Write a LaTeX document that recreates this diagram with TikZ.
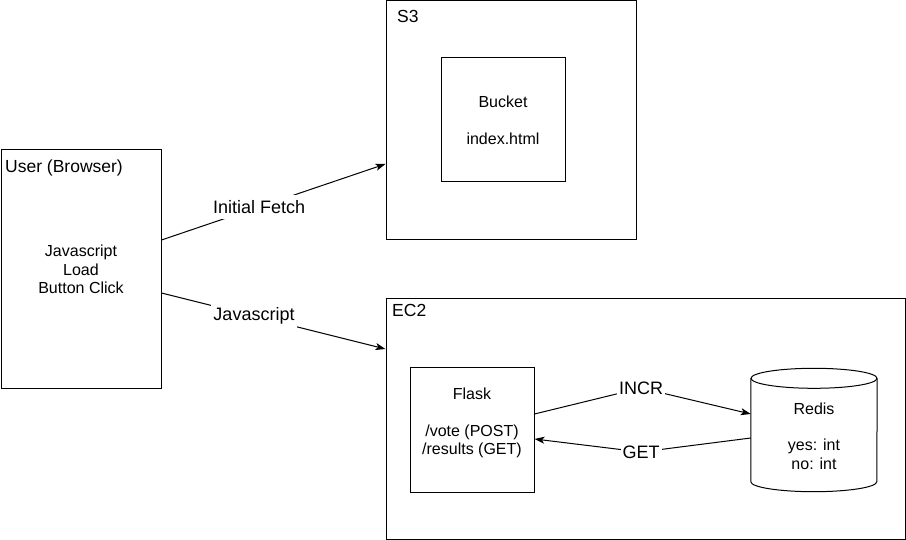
\documentclass[tikz,border=0pt]{standalone}
\usepackage{fontspec}
\setmainfont{Liberation Sans}
\usetikzlibrary{arrows.meta}

\tikzset{
	box/.style={draw, line width=1pt, rectangle, inner sep=0pt, align=center, font=\fontsize{16}{18.3}\selectfont},
	boxtext/.style={inner sep=0pt, align=center, font=\fontsize{16}{18.3}\selectfont},
	title/.style={anchor=base west, inner sep=0pt, font=\fontsize{17.5}{20}\selectfont},
	edgelabel/.style={fill=white, inner xsep=2pt, inner ysep=0pt, minimum height=24, font=\fontsize{18}{20}\selectfont},
	conn/.style={line width=1pt, -{Stealth[length=10pt,width=7pt,inset=2.5pt]}},
}

\begin{document}
\begin{tikzpicture}[x=1pt,y=-1pt]
	% Parameters
	\def\smallbox{124}
	\def\cylrx{63pt}
	\def\cylry{10pt}
	\useasboundingbox (0,0) rectangle (906,540);
	
	%blocks
	\node[box, minimum width=160, minimum height=239] (user) at (81,269.5) {Javascript\\Load\\Button Click};
	\node[box, minimum width=250, minimum height=239] (s3) at (511,120.5) {};
	\node[box, minimum width=\smallbox, minimum height=\smallbox] (bucket) at (503,120) {Bucket\\\mbox{}\\index.html};
	\node[box, minimum width=519, minimum height=240] (ec2) at (645.5,419) {};
	\node[box, minimum width=\smallbox, minimum height=\smallbox] (flask) at (472,430) {};
	\node[inner sep=0pt, minimum width=126, minimum height=123] (redis) at (814,430) {};
	
	%cylinder
	\draw[line width=1pt] ([yshift=-\cylry]redis.north) ellipse[x radius=\cylrx, y radius=\cylry];
	\draw[line width=1pt] ([yshift=-\cylry]redis.north west) -- ([yshift=\cylry]redis.south west)
		arc[start angle=180, end angle=360, x radius=\cylrx, y radius=\cylry] -- ([yshift=-\cylry]redis.north east);
	
	%box texts
	\node[boxtext] (flasktext) at ([yshift=7pt]flask.center) {Flask\\\mbox{}\\/vote (POST)\\/results (GET)};
	\node[boxtext] (redistext) at ([yshift=-6pt]redis.center) {Redis\\\mbox{}\\yes: int\\no: int};
	
	%titles
	\node[title] (usertitle) at (5,173) {User (Browser)};
	\node[title] (s3title) at (397,23) {S3};
	\node[title] (ec2title) at (392,317) {EC2};
	
	%nets
	\draw[conn] ([yshift=29.5pt]user.east) -- node[edgelabel, pos=0.436] (fetch) {Initial Fetch} ([yshift=-43.5pt]s3.west);
	\draw[conn] ([yshift=-23.5pt]user.east) -- node[edgelabel, pos=0.413] (js) {Javascript} ([yshift=70pt]ec2.west);
	
	\coordinate (incrpt) at (641,388);
	\coordinate (getpt) at (641,452);
	\draw[conn] ([yshift=16pt]flask.east) -- (incrpt) node[edgelabel] (incr) {INCR} -- ([yshift=16pt]redis.west);
	\draw[conn] ([yshift=-8pt]redis.west) -- (getpt) node[edgelabel] (get) {GET} -- ([yshift=-9pt]flask.east);
\end{tikzpicture}
\end{document}
